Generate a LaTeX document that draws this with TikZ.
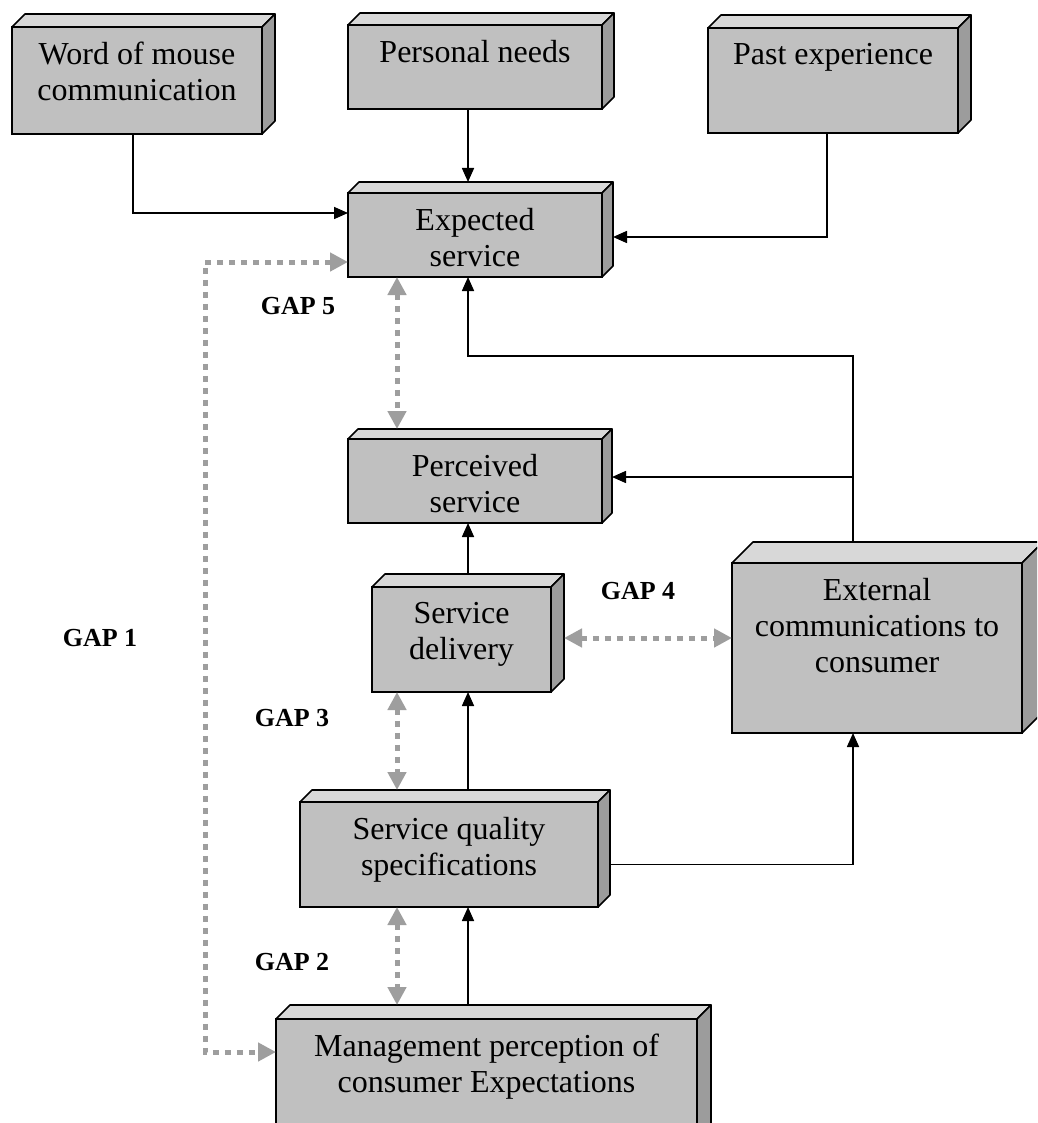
\documentclass[tikz,border=0pt]{standalone}
\usepackage{fontspec}
\setmainfont{Liberation Serif}
\usetikzlibrary{arrows.meta,calc}

\definecolor{facefront}{HTML}{C0C0C0}
\definecolor{facetop}{HTML}{D8D8D8}
\definecolor{faceside}{HTML}{9C9C9C}
\definecolor{gaparrow}{HTML}{9E9E9E}

\tikzset{
  cubefront/.style={draw=black, line width=1.6pt, fill=facefront, inner sep=0pt, outer sep=0pt, rectangle},
  cubetop/.style={draw=black, line width=1.6pt, fill=facetop, line join=round},
  cubeside/.style={draw=black, line width=1.6pt, fill=faceside, line join=round},
  boxtext/.style={font=\fontsize{32}{36}\selectfont, align=center, inner sep=0pt, anchor=north},
  gaplabel/.style={font=\bfseries\fontsize{26}{30}\selectfont, inner sep=0pt},
  flow/.style={draw=black, line width=1.6pt, -{Triangle[length=14pt,width=12pt]}},
  gapflow/.style={draw=gaparrow, line width=5pt, dash pattern=on 6pt off 6pt,
    {Triangle[length=18pt,width=18pt]}-{Triangle[length=18pt,width=18pt]}}
}

% raised block: name, left, top, right, bottom, depth, text
\newcommand\cuboid[7]{%
  \filldraw[cubetop] (#2,#3) -- ({#2+#6},{#3-#6}) -- ({#4+#6},{#3-#6}) -- (#4,#3) -- cycle;
  \filldraw[cubeside] (#4,#3) -- ({#4+#6},{#3-#6}) -- ({#4+#6},{#5-#6}) -- (#4,#5) -- cycle;
  \node[cubefront, anchor=north west, minimum width={#4-#2}, minimum height={#5-#3}] (#1) at (#2,#3) {};
  \node[boxtext] (#1-text) at ({(#2+#4)/2},{#3+15}) {#7};
}

\begin{document}
\begin{tikzpicture}[x=1pt,y=-1pt]
\useasboundingbox (0,0) rectangle (1037,1123);
\fill[white] (0,0) rectangle (1037,1123);
\clip (0,0) rectangle (1037,1123);

% blocks
\cuboid{word}{12}{27}{262}{134}{13}{Word of mouse\\communication}
\cuboid{personal}{348}{25}{602}{109}{12}{Personal needs}
\cuboid{past}{708}{28}{958}{133}{13}{Past experience}
\cuboid{expected}{348}{193}{602}{277}{11}{Expected\\service}
\cuboid{perceived}{348}{439}{602}{523}{10}{Perceived\\service}
\cuboid{delivery}{372}{587}{551}{692}{13}{Service\\delivery}
\cuboid{ext}{732}{563}{1022}{733}{21}{External\\communications to\\consumer}
\cuboid{quality}{300}{802}{598}{907}{12}{Service quality\\specifications}
\cuboid{mgmt}{276}{1019}{697}{1140}{14}{Management perception of\\consumer Expectations}

% attachment points
\coordinate (wordOut) at ([xshift=-4pt]word.south);
\coordinate (expInW) at ([yshift=22pt]expected.west);
\coordinate (persOut) at ([xshift=-7pt]personal.south);
\coordinate (expInN) at ([xshift=-7pt,yshift=11pt]expected.north);
\coordinate (pastOut) at ([xshift=-6pt]past.south);
\coordinate (expInE) at ([xshift=11pt,yshift=-2pt]expected.east);
\coordinate (extOut) at ([xshift=-24pt,yshift=21pt]ext.north);
\coordinate (expInS) at ([xshift=-7pt]expected.south);
\coordinate (percInE) at ([xshift=10pt,yshift=4pt]perceived.east);
\coordinate (delOut) at ([xshift=6.5pt,yshift=14pt]delivery.north);
\coordinate (percInS) at ([xshift=-7pt]perceived.south);
\coordinate (qualOut) at ([xshift=19pt,yshift=13pt]quality.north);
\coordinate (delInS) at ([xshift=6.5pt]delivery.south);
\coordinate (mgmtOut) at ([xshift=-18.5pt,yshift=14pt]mgmt.north);
\coordinate (qualInS) at ([xshift=19pt]quality.south);
\coordinate (qualOutE) at ([xshift=12pt,yshift=-10pt]quality.east);
\coordinate (extInS) at ([xshift=-24pt]ext.south);

% influences
\draw[flow] (wordOut) |- (expInW);
\draw[flow] (persOut) -- (expInN);
\draw[flow] (pastOut) |- (expInE);
\draw[flow] (extOut) -- ++(0,-186) -| (expInS);
\draw[flow] (extOut |- percInE) -- (percInE);
\draw[flow] (delOut) -- (percInS);
\draw[flow] (qualOut) -- (delInS);
\draw[flow] (mgmtOut) -- (qualInS);
\draw[flow] (qualOutE) -| (extInS);

% gaps
\coordinate (g5a) at ([xshift=-78pt]expected.south);
\coordinate (g5b) at ([xshift=-78pt,yshift=10pt]perceived.north);
\coordinate (g3a) at ([xshift=-64.5pt]delivery.south);
\coordinate (g3b) at ([xshift=-52pt,yshift=12pt]quality.north);
\coordinate (g2a) at ([xshift=-52pt]quality.south);
\coordinate (g2b) at ([xshift=-89.5pt,yshift=14pt]mgmt.north);
\coordinate (g4a) at ([xshift=13pt,yshift=1.5pt]delivery.east);
\coordinate (g4b) at ([yshift=10pt]ext.west);
\coordinate (g1a) at ([yshift=-27pt]expected.west);
\coordinate (g1b) at ([yshift=27.5pt]mgmt.west);

\draw[gapflow] (g5a) -- (g5b);
\draw[gapflow] (g3a) -- (g3b);
\draw[gapflow] (g2a) -- (g2b);
\draw[gapflow] (g4a) -- (g4b);
\draw[gapflow] (g1a) -- ++(-143,0) |- (g1b);

\node[gaplabel] (gap5) at (298,306) {GAP 5};
\node[gaplabel] (gap1) at (100,638) {GAP 1};
\node[gaplabel] (gap4) at (638,591) {GAP 4};
\node[gaplabel] (gap3) at (292,718) {GAP 3};
\node[gaplabel] (gap2) at (292,962) {GAP 2};
\end{tikzpicture}
\end{document}
